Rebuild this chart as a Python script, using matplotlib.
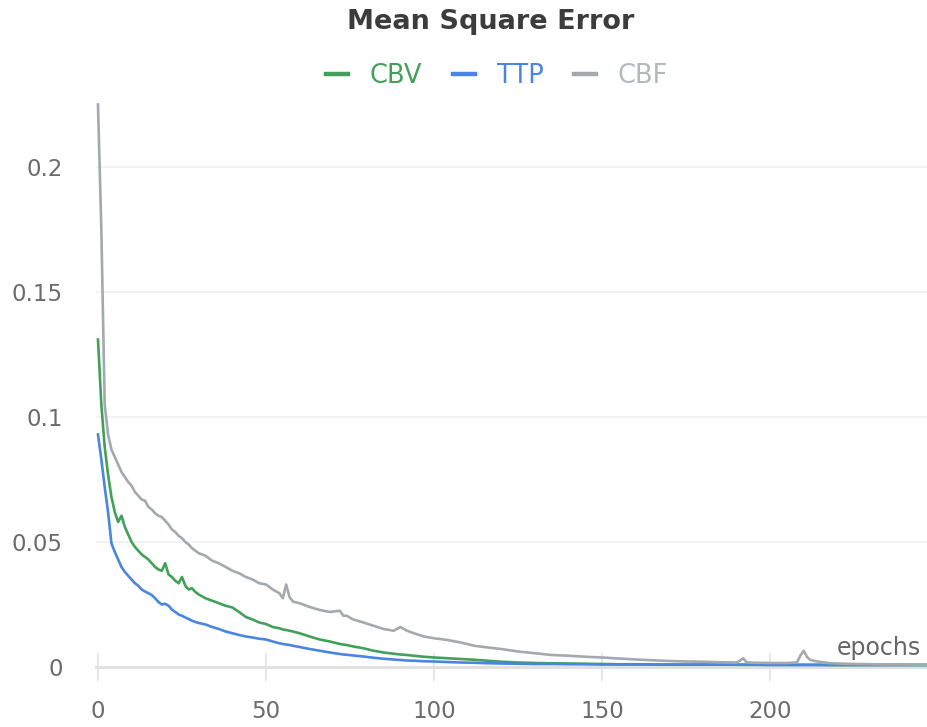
import matplotlib
matplotlib.use("Agg")
import matplotlib.pyplot as plt
from matplotlib.ticker import FuncFormatter

plt.rcParams["font.family"] = ["DejaVu Sans"]

# sampled training epochs (dense early on where the curves are noisy)
epochs = [0, 1, 2, 3, 4, 5, 6, 7, 8, 9, 10, 11, 12, 13, 14, 15, 16, 17, 18, 19,
          20, 21, 22, 23, 24, 25, 26, 27, 28, 29, 30, 32, 34, 36, 38, 40, 42, 44,
          46, 48, 50, 52, 54, 55, 56, 57, 58, 60, 63, 66, 69, 72, 73, 74, 76, 79,
          82, 85, 88, 90, 91, 92, 94, 97, 100, 104, 108, 112, 116, 120, 125, 130,
          135, 140, 145, 150, 155, 160, 165, 170, 175, 180, 185, 190, 191, 192,
          193, 195, 200, 205, 208, 209, 210, 211, 212, 214, 218, 222, 226, 230,
          235, 240, 245, 249]

mse_cbv = [0.131, 0.105, 0.088, 0.077, 0.068, 0.062, 0.058, 0.0605, 0.056, 0.053,
           0.050, 0.048, 0.0465, 0.045, 0.044, 0.043, 0.0415, 0.040, 0.039, 0.0385,
           0.0415, 0.037, 0.036, 0.0345, 0.0335, 0.036, 0.0325, 0.031, 0.0315, 0.030,
           0.029, 0.0275, 0.0265, 0.0255, 0.0245, 0.0238, 0.022, 0.020,
           0.019, 0.0178, 0.0172, 0.016, 0.0155, 0.015, 0.0148, 0.0145, 0.0142, 0.0135,
           0.0122, 0.011, 0.0102, 0.0092, 0.009, 0.0088, 0.0082, 0.0075,
           0.0065, 0.0058, 0.0053, 0.005, 0.0049, 0.0048, 0.0045, 0.0041, 0.0038,
           0.0035, 0.0032, 0.0029, 0.0025, 0.0021, 0.0018, 0.0016,
           0.0015, 0.0014, 0.0013, 0.0012, 0.0011, 0.0011, 0.0010, 0.0010, 0.0010,
           0.0010, 0.0010, 0.0009, 0.0009, 0.0009,
           0.0009, 0.0009, 0.0009, 0.0009, 0.0009, 0.0009, 0.0009, 0.0009, 0.0009,
           0.0009, 0.0008, 0.0008, 0.0008, 0.0008,
           0.0008, 0.0008, 0.0008, 0.0008]

mse_ttp = [0.093, 0.083, 0.072, 0.062, 0.0495, 0.046, 0.043, 0.040, 0.038, 0.0365,
           0.035, 0.0335, 0.0325, 0.031, 0.0302, 0.0295, 0.0288, 0.0275, 0.026, 0.025,
           0.0253, 0.0245, 0.023, 0.022, 0.021, 0.0205, 0.0198, 0.0192, 0.0185, 0.018,
           0.0176, 0.017, 0.016, 0.0152, 0.0142, 0.0135, 0.0128, 0.0122,
           0.0118, 0.0113, 0.011, 0.0102, 0.0095, 0.0092, 0.009, 0.0088, 0.0085, 0.008,
           0.0072, 0.0065, 0.0058, 0.0052, 0.005, 0.0049, 0.0046, 0.0042,
           0.0037, 0.0033, 0.003, 0.0028, 0.0027, 0.0026, 0.0025, 0.0023, 0.0022,
           0.002, 0.0018, 0.0017, 0.0015, 0.0014, 0.0013, 0.0012,
           0.0012, 0.0011, 0.0011, 0.0010, 0.0010, 0.0010, 0.0010, 0.0009, 0.0009,
           0.0009, 0.0009, 0.0009, 0.0009, 0.0009,
           0.0009, 0.0009, 0.0008, 0.0008, 0.0008, 0.0008, 0.0008, 0.0008, 0.0008,
           0.0008, 0.0008, 0.0008, 0.0008, 0.0008,
           0.0008, 0.0008, 0.0008, 0.0008]

mse_cbf = [0.225, 0.175, 0.105, 0.093, 0.087, 0.084, 0.081, 0.078, 0.076, 0.074,
           0.0725, 0.070, 0.0685, 0.067, 0.0665, 0.064, 0.063, 0.0615, 0.0605, 0.060,
           0.0585, 0.057, 0.055, 0.054, 0.0525, 0.0515, 0.050, 0.049, 0.0475, 0.0465,
           0.0455, 0.0445, 0.0425, 0.0415, 0.040, 0.0385, 0.0375, 0.036,
           0.035, 0.0335, 0.033, 0.031, 0.0295, 0.0275, 0.033, 0.028, 0.0262, 0.0255,
           0.024, 0.0228, 0.022, 0.0225, 0.0205, 0.0205, 0.019, 0.0178,
           0.0165, 0.0152, 0.0145, 0.016, 0.0152, 0.0145, 0.0135, 0.0122, 0.0115,
           0.0108, 0.0098, 0.0085, 0.0078, 0.0072, 0.0062, 0.0055,
           0.0048, 0.0045, 0.0041, 0.0038, 0.0034, 0.003, 0.0027, 0.0024, 0.0022,
           0.0021, 0.0019, 0.0018, 0.0025, 0.0035,
           0.0019, 0.0017, 0.0016, 0.0016, 0.0018, 0.0045, 0.0065, 0.004, 0.0028,
           0.0022, 0.0015, 0.0013, 0.0012, 0.0011,
           0.0010, 0.0010, 0.0009, 0.0009]

series = [("CBV", mse_cbv, "#43a05a"),
          ("TTP", mse_ttp, "#4b85e2"),
          ("CBF", mse_cbf, "#a3a9ad")]

y_ticks = [0, 0.05, 0.1, 0.15, 0.2]
x_ticks = [0, 50, 100, 150, 200]

W, H = 928, 727
fig = plt.figure(figsize=(W / 100, H / 100), dpi=100)
left, right, top, bottom = 96.3, 928, 104, 667
ax = fig.add_axes([left / W, 1 - bottom / H, (right - left) / W, (bottom - top) / H])

for i, (name, vals, col) in enumerate(series):
    ax.plot(epochs, vals, color=col, lw=1.9, label=name, zorder=3 + i,
            solid_joinstyle="round", clip_on=False)

ax.set_xlim(-0.5, 247)
ax.set_ylim(0, 0.2252)

for s in ("top", "right", "left"):
    ax.spines[s].set_visible(False)
ax.spines["bottom"].set_color("#e0e0e0")
ax.spines["bottom"].set_linewidth(2.2)
ax.spines["bottom"].set_zorder(2)

ax.set_yticks(y_ticks)
ax.yaxis.set_major_formatter(FuncFormatter(lambda v, p: f"{v:g}"))
ax.set_xticks(x_ticks)
ax.grid(axis="y", color="#efefef", lw=1.1)
ax.set_axisbelow(True)

ax.tick_params(axis="y", length=0, pad=24, labelsize=16.5, labelcolor="#6b6b6b")
ax.tick_params(axis="x", direction="inout", length=20, width=1.2, color="#e0e0e0",
               pad=14, labelsize=16.5, labelcolor="#6b6b6b")

ax.text(0.992, 0.012, "epochs", transform=ax.transAxes, ha="right", va="bottom",
        fontsize=17, color="#666666")

fig.text(491 / W, 1 - 22 / H, "Mean Square Error", ha="center", va="center",
         fontsize=19.5, fontweight="bold", color="#3c3c3c")

leg = fig.legend(loc="center", bbox_to_anchor=(497 / W, 1 - 76 / H), ncol=3,
                 frameon=False, fontsize=18.5, handlelength=0.85, handletextpad=0.85,
                 columnspacing=1.2, labelcolor="linecolor")
for h in leg.legend_handles:
    h.set_linewidth(3.2)
leg.get_texts()[2].set_color("#b3b8bb")

fig.savefig("out.png", dpi=100)
